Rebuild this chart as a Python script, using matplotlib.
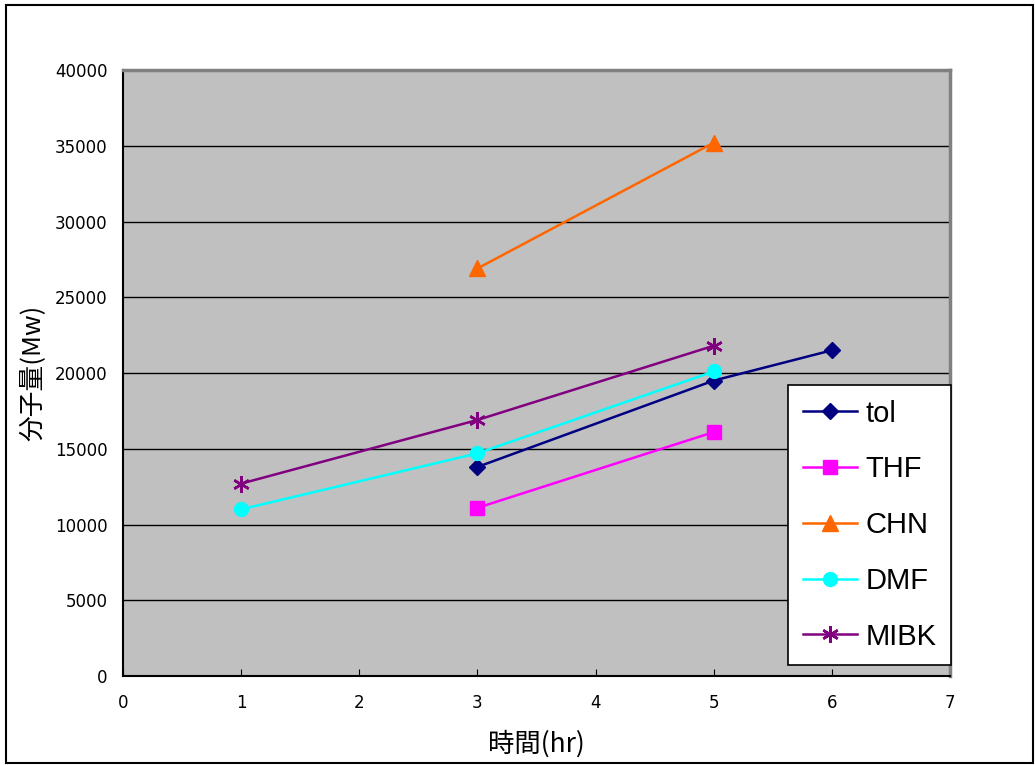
import matplotlib.pyplot as plt
from matplotlib.patches import Rectangle

plt.rcParams['font.family'] = ['Noto Sans CJK JP', 'DejaVu Sans']

# molecular weight vs reaction time for each solvent
tol_x = [3, 5, 6]
tol_y = [13800, 19500, 21500]
thf_x = [3, 5]
thf_y = [11100, 16100]
chn_x = [3, 5]
chn_y = [26900, 35200]
dmf_x = [1, 3, 5]
dmf_y = [11000, 14700, 20100]
mibk_x = [1, 3, 5]
mibk_y = [12700, 16900, 21800]

fig = plt.figure(figsize=(10.35, 7.65), dpi=100)
ax = fig.add_axes([0.1188, 0.1163, 0.7991, 0.7922])
ax.set_facecolor('#C0C0C0')

ax.plot(tol_x, tol_y, color='#000080', marker='D', markersize=8, lw=1.8, label='tol')
ax.plot(thf_x, thf_y, color='#FF00FF', marker='s', markersize=10, lw=1.8, label='THF')
ax.plot(chn_x, chn_y, color='#FF6600', marker='^', markersize=11, lw=1.8, label='CHN')
ax.plot(dmf_x, dmf_y, color='#00FFFF', marker='o', markersize=10, lw=1.8, label='DMF')
ax.plot(mibk_x, mibk_y, color='#800080', marker=(6, 2, 0), markersize=12, mew=1.8,
        lw=1.8, label='MIBK')

ax.set_xlim(0, 7)
ax.set_ylim(0, 40000)
ax.set_xticks(range(0, 8))
ax.set_yticks(range(0, 40001, 5000))
ax.yaxis.grid(True, color='black', lw=1)
ax.set_axisbelow(True)
ax.tick_params(axis='x', direction='in', length=5, pad=13)
ax.tick_params(axis='y', length=0, pad=11)
for lbl in ax.get_xticklabels() + ax.get_yticklabels():
    lbl.set_family('DejaVu Sans')
    lbl.set_fontsize(12)
for s in ['left', 'bottom']:
    ax.spines[s].set_color('black')
    ax.spines[s].set_linewidth(1.5)
for s in ['top', 'right']:
    ax.spines[s].set_color('#808080')
    ax.spines[s].set_linewidth(2.5)

ax.set_xlabel('時間(hr)', fontsize=19, labelpad=13)
ax.set_ylabel('分子量(Mw)', fontsize=18.5, labelpad=6)

leg = ax.legend(loc='lower right', bbox_to_anchor=(1.001, 0.018),
                prop={'family': 'Liberation Sans', 'size': 21},
                frameon=True, fancybox=False, edgecolor='black', framealpha=1,
                borderpad=0.5, labelspacing=0.95, handlelength=1.85,
                handletextpad=0.3, borderaxespad=0)
leg.get_frame().set_linewidth(1.2)

fig.patches.append(Rectangle((6 / 1035, 2 / 765), 1027 / 1035, 758 / 765,
                             transform=fig.transFigure, fill=False,
                             edgecolor='black', lw=1.5))

fig.savefig('out.png', dpi=100)
